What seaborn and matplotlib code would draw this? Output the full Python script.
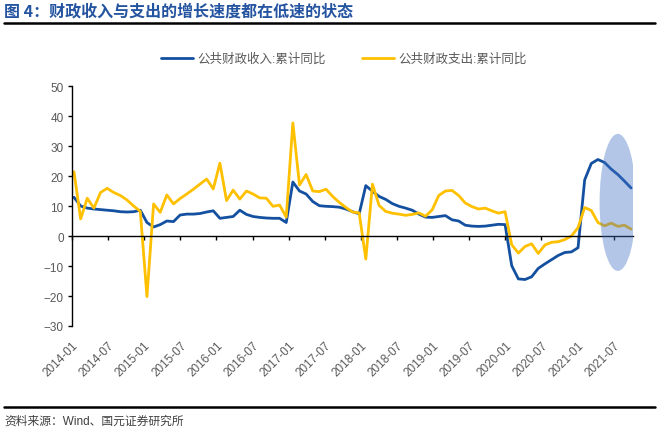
import matplotlib
matplotlib.use("Agg")
import matplotlib.pyplot as plt
from matplotlib.lines import Line2D
from matplotlib.patches import Ellipse
import seaborn as sns
import numpy as np
import pandas as pd

# monthly cumulative data, Jan-Feb reported together (no January point)
months = [f"{y}-{m:02d}" for y in range(2014, 2022) for m in range(2, 13)][:85]

revenue = [
    12.9, 10.0, 9.3, 9.0, 8.8, 8.6, 8.4, 8.1, 8.0, 8.1, 8.6,          # 2014
    4.5, 3.0, 3.8, 5.0, 4.8, 7.0, 7.3, 7.3, 7.5, 8.0, 8.4,            # 2015
    5.9, 6.2, 6.5, 8.6, 7.2, 6.5, 6.2, 6.0, 5.9, 5.9, 4.5,            # 2016
    18.0, 15.0, 14.0, 11.5, 10.1, 9.9, 9.8, 9.6, 9.0, 8.1, 7.4,       # 2017
    16.8, 14.9, 13.2, 12.2, 10.8, 9.9, 9.3, 8.6, 7.3, 6.3, 6.2,       # 2018
    6.5, 6.8, 5.4, 5.0, 3.6, 3.3, 3.2, 3.3, 3.6, 3.9, 3.8,            # 2019
    -9.9, -14.3, -14.5, -13.6, -10.8, -9.3, -7.9, -6.5, -5.5, -5.3, -3.9,  # 2020
    18.7, 24.2, 25.5, 24.5, 22.3, 20.5, 18.3, 16.0,                   # 2021
]
expenditure = [
    21.4, 5.7, 12.6, 9.3, 14.5, 15.9, 14.5, 13.5, 12.0, 10.0, 8.2,
    -20.2, 10.7, 7.9, 13.7, 10.7, 12.5, 14.0, 15.6, 17.3, 19.0, 15.7,
    24.3, 11.8, 15.3, 12.3, 15.0, 14.0, 12.7, 12.6, 9.9, 10.3, 6.3,
    37.7, 17.0, 20.5, 15.0, 14.8, 15.6, 13.2, 11.2, 9.5, 8.0, 7.7,
    -7.7, 17.3, 10.2, 8.2, 7.6, 7.3, 6.9, 7.2, 7.7, 6.6, 8.7,
    13.5, 15.0, 15.2, 13.5, 11.0, 9.8, 9.0, 9.3, 8.4, 7.6, 8.1,
    -2.9, -5.7, -3.5, -2.6, -5.8, -3.0, -2.1, -1.9, -1.2, 0.0, 2.8,
    9.5, 8.5, 4.5, 3.4, 4.3, 3.2, 3.6, 2.3,
]
series_names = ["公共财政收入:累计同比", "公共财政支出:累计同比"]
tick_labels = [f"{y}-{m}" for y in range(2014, 2022) for m in ("01", "07")]

BLUE = "#1450A0"
GOLD = "#FFC000"
GREY = "#595959"

sns.set_theme(style="ticks")
plt.rcParams['font.family'] = ['Liberation Sans', 'Noto Sans CJK SC', 'DejaVu Sans']

df = pd.DataFrame({"idx": np.arange(len(months)), "month": months,
                   series_names[0]: revenue, series_names[1]: expenditure})
long = df.melt(id_vars=["idx", "month"], var_name="series", value_name="value")

fig = plt.figure(figsize=(6.57, 4.31), dpi=100)
ax = fig.add_axes([0.1096, 0.2413, 0.854, 0.5568])

sns.lineplot(data=long, x="idx", y="value", hue="series", palette=[BLUE, GOLD],
             linewidth=2.0, ax=ax, legend=False, zorder=2)

# highlight of the latest months
ax.add_patch(Ellipse((82.0, 11.2), 5.5, 45.7, facecolor="#4472C4",
                     edgecolor="none", alpha=0.4, zorder=3))

ax.set_xlim(-0.3, 84.3)
ax.set_ylim(-30, 50)
ax.set_yticks(range(-30, 51, 10))
ax.set_xlabel("")
ax.set_ylabel("")

tick_pos = np.arange(16) * 5.445 - 0.3
ax.set_xticks(tick_pos)
ax.spines["top"].set_visible(False)
ax.spines["right"].set_visible(False)
ax.spines["bottom"].set_position(("data", 0))
for s in ("left", "bottom"):
    ax.spines[s].set_color("black")
    ax.spines[s].set_linewidth(1.0)
ax.tick_params(axis="x", direction="out", length=3, width=1, color="black",
               labelbottom=False)
ax.tick_params(axis="y", direction="out", length=3, width=1, color="black",
               labelsize=8.5, labelcolor=GREY, pad=3)

sec = ax.secondary_xaxis("bottom")
sec.set_xticks(tick_pos, labels=tick_labels)
sec.spines["bottom"].set_visible(False)
sec.tick_params(length=0, pad=9, labelsize=8.5, labelcolor=GREY)
for lab in sec.get_xticklabels():
    lab.set_rotation(45)
    lab.set_ha("right")
    lab.set_rotation_mode("anchor")

handles = [Line2D([], [], color=BLUE, lw=2), Line2D([], [], color=GOLD, lw=2)]
fig.legend(handles, series_names, loc="center", bbox_to_anchor=(0.523, 0.861),
           ncol=2, frameon=False, fontsize=9, handlelength=2.6,
           handletextpad=0.3, columnspacing=2.9, labelcolor=GREY)

fig.text(0.006, 1 - 12 / 431, "图 4：财政收入与支出的增长速度都在低速的状态",
         color="#2454A0", fontsize=11.5, fontweight="bold", va="center",
         family=["Noto Sans CJK SC", "DejaVu Sans"])
fig.add_artist(Line2D([0.006, 0.997], [1 - 24 / 431] * 2, color="black", lw=1.8))
fig.add_artist(Line2D([0.006, 0.997], [1 - 408 / 431] * 2, color="black", lw=1.8))
fig.text(0.006, 1 - 422 / 431, "资料来源：Wind、国元证券研究所", color="#404040",
         fontsize=8.5, va="center")

fig.savefig("out.png", dpi=100)
